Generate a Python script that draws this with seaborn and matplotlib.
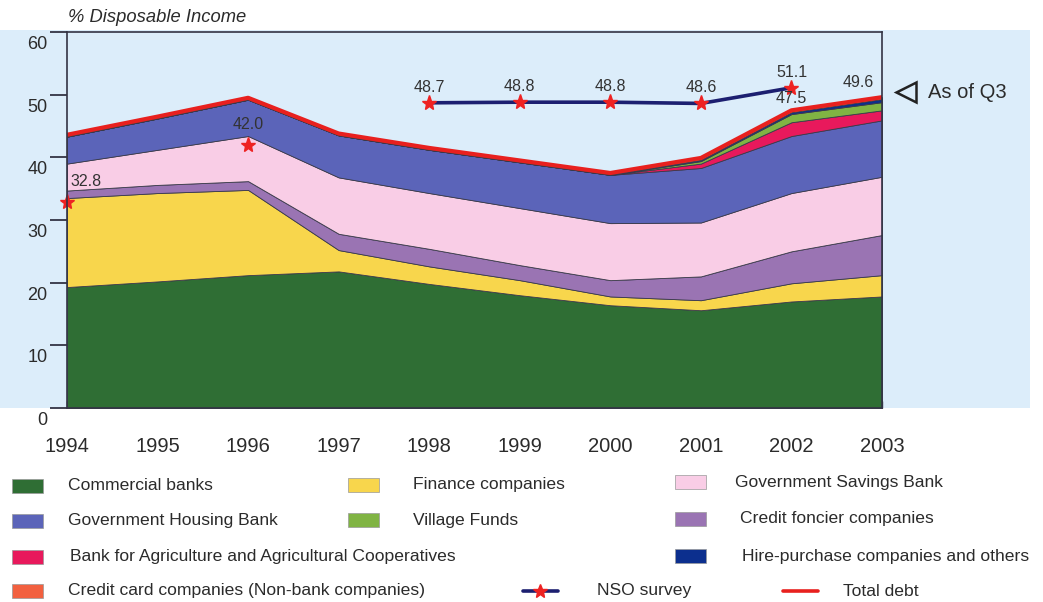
import numpy as np
import pandas as pd
import matplotlib
matplotlib.use("Agg")
import matplotlib.pyplot as plt
import matplotlib.transforms as mtransforms
import seaborn as sns
from matplotlib.patches import Rectangle
from matplotlib.lines import Line2D

# ---------------- data ----------------
years = [1994, 1995, 1996, 1997, 1998, 1999, 2000, 2001, 2002, 2003]
commercial_banks = [19.3, 20.2, 21.2, 21.8, 19.8, 18.0, 16.4, 15.6, 17.0, 17.8]
finance_companies = [14.2, 14.1, 13.6, 3.4, 2.8, 2.4, 1.4, 1.6, 2.9, 3.4]
credit_foncier = [1.2, 1.3, 1.4, 2.6, 2.8, 2.4, 2.6, 3.8, 5.1, 6.4]
gov_savings_bank = [4.3, 5.6, 7.2, 9.0, 8.9, 9.1, 9.1, 8.6, 9.3, 9.3]
gov_housing_bank = [4.3, 5.0, 5.8, 6.7, 6.9, 7.3, 7.7, 8.7, 9.1, 9.0]
baac = [0, 0, 0, 0, 0, 0, 0, 0.7, 2.2, 1.6]
village_funds = [0, 0, 0, 0, 0, 0, 0, 0.4, 1.3, 1.3]
hire_purchase = [0.1, 0.1, 0.1, 0.1, 0.1, 0.1, 0.1, 0.2, 0.3, 0.5]
credit_card = [0.2, 0.2, 0.2, 0.2, 0.2, 0.2, 0.2, 0.3, 0.3, 0.3]

nso_years = [1998, 1999, 2000, 2001, 2002]
nso_values = [48.7, 48.8, 48.8, 48.6, 51.1]
nso_early_years = [1994, 1996]
nso_early_values = [32.8, 42.0]

layer_names = ["Commercial banks", "Finance companies", "Credit foncier companies",
               "Government Savings Bank", "Government Housing Bank",
               "Bank for Agriculture and Agricultural Cooperatives", "Village Funds",
               "Hire-purchase companies and others", "Credit card companies (Non-bank companies)"]
layers = [commercial_banks, finance_companies, credit_foncier, gov_savings_bank,
          gov_housing_bank, baac, village_funds, hire_purchase, credit_card]
layer_colors = ["#2f6e34", "#f8d64c", "#9a74b3", "#f9cde6", "#5b64b9",
                "#e8195c", "#80b443", "#0c2f8e", "#f2603f"]

total_debt = np.sum(np.array(layers), axis=0)

# ---------------- style ----------------
sns.set_theme(style="white")
plt.rcParams["font.family"] = ["Liberation Sans", "DejaVu Sans"]
TXT = "#2b2b2b"
PANEL = "#dcedfa"

fig = plt.figure(figsize=(10.43, 6.02), dpi=100)
W, H = 1043, 602

def fx(px):
    return px / W

def fy(py):
    return 1 - py / H

# light blue panel behind the plot
fig.add_artist(Rectangle((0, fy(408)), fx(1030), fy(30) - fy(408),
                         transform=fig.transFigure, facecolor=PANEL,
                         edgecolor="none", zorder=0))

ax = fig.add_axes([fx(67), fy(408), fx(882) - fx(67), fy(32) - fy(408)])
ax.set_facecolor(PANEL)

ax.stackplot(years, *layers, colors=layer_colors, edgecolor="#3a3a4a",
             linewidth=0.6, zorder=2)

df_total = pd.DataFrame({"year": years, "total": total_debt})
sns.lineplot(data=df_total, x="year", y="total", color="#e8201e", linewidth=3.0,
             ax=ax, zorder=4)

df_nso = pd.DataFrame({"year": nso_years, "value": nso_values})
sns.lineplot(data=df_nso, x="year", y="value", color="#1c1f70", linewidth=2.6,
             ax=ax, zorder=5)
ax.plot(nso_years, nso_values, linestyle="none", marker="*", markersize=11,
        color="#ee2222", zorder=6, clip_on=False)
ax.plot(nso_early_years, nso_early_values, linestyle="none", marker="*",
        markersize=11, color="#ee2222", zorder=6, clip_on=False)

# labels
lab_kw = dict(fontsize=11.5, color="#333333", zorder=7)
ax.text(nso_early_years[0] + 0.04, nso_early_values[0] + 3.4,
        f"{nso_early_values[0]:.1f}", ha="left", va="center", **lab_kw)
ax.text(nso_early_years[1], nso_early_values[1] + 3.2,
        f"{nso_early_values[1]:.1f}", ha="center", va="center", **lab_kw)
for xv, yv in zip(nso_years, nso_values):
    ax.text(xv, yv + 2.5, f"{yv:.1f}", ha="center", va="center", **lab_kw)
ax.text(years[-2], total_debt[-2] + 1.9, f"{total_debt[-2]:.1f}",
        ha="center", va="center", **lab_kw)
ax.text(years[-1] - 0.26, total_debt[-1] + 2.3, f"{total_debt[-1]:.1f}",
        ha="center", va="center", **lab_kw)

# axes formatting
ax.set_xlim(1994, 2003)
ax.set_ylim(0, 60)
ax.set_xticks(years)
ax.set_xticklabels([str(y) for y in years])
ax.set_yticks([0, 10, 20, 30, 40, 50, 60])
ax.set_xlabel("")
ax.set_ylabel("")
for s in ax.spines.values():
    s.set_visible(True)
    s.set_color("#333344")
    s.set_linewidth(1.2)
    s.set_zorder(8)
ax.tick_params(axis="y", direction="out", length=12, width=1.3, color="#333344",
               labelsize=13, labelcolor=TXT, pad=2, left=True)
ax.tick_params(axis="x", direction="in", length=5, width=1.0, color="#333344",
               labelsize=14.5, labelcolor=TXT, pad=21, bottom=True)
offset = mtransforms.ScaledTranslation(0, -3 / 72, fig.dpi_scale_trans)
for lbl in ax.get_yticklabels():
    lbl.set_verticalalignment("top")
    lbl.set_transform(lbl.get_transform() + offset)

fig.text(fx(68), fy(17), "% Disposable Income", fontsize=13.2, style="italic",
         color=TXT, ha="left", va="center")

# As of Q3 note
fig.add_artist(Line2D([fx(906)], [fy(92)], marker="<", markersize=15,
                      markerfacecolor="none", markeredgecolor="#222222",
                      markeredgewidth=1.8, transform=fig.transFigure))
fig.text(fx(928), fy(92), "As of Q3", fontsize=14.5, color=TXT, ha="left", va="center")

# ---------------- legend ----------------
LFS = 12.6

def patch(x0, yc, color, text, tx):
    fig.add_artist(Rectangle((fx(x0), fy(yc + 7)), fx(31), fy(yc - 7) - fy(yc + 7),
                             transform=fig.transFigure, facecolor=color,
                             edgecolor="#999999", linewidth=0.5))
    fig.text(fx(tx), fy(yc), text, fontsize=LFS, color=TXT, ha="left", va="center")

patch(12, 486, layer_colors[0], layer_names[0], 68)
patch(348, 485, layer_colors[1], layer_names[1], 413)
patch(675, 482, layer_colors[3], layer_names[3], 735)
patch(12, 521, layer_colors[4], layer_names[4], 68)
patch(348, 520, layer_colors[6], layer_names[6], 413)
patch(675, 519, layer_colors[2], layer_names[2], 740)
patch(12, 557, layer_colors[5], layer_names[5], 70)
patch(675, 556, layer_colors[7], layer_names[7], 742)
patch(12, 591, layer_colors[8], layer_names[8], 68)

fig.add_artist(Line2D([fx(523), fx(558)], [fy(591), fy(591)], color="#1c1f70",
                      linewidth=2.6, transform=fig.transFigure))
fig.add_artist(Line2D([fx(540)], [fy(591)], marker="*", markersize=10,
                      color="#ee2222", transform=fig.transFigure))
fig.text(fx(597), fy(591), "NSO survey", fontsize=LFS, color=TXT, ha="left", va="center")
fig.add_artist(Line2D([fx(783), fx(818)], [fy(591), fy(591)], color="#e8201e",
                      linewidth=2.6, transform=fig.transFigure))
fig.text(fx(843), fy(591), "Total debt", fontsize=LFS, color=TXT, ha="left", va="center")

fig.savefig("out.png", dpi=100)
